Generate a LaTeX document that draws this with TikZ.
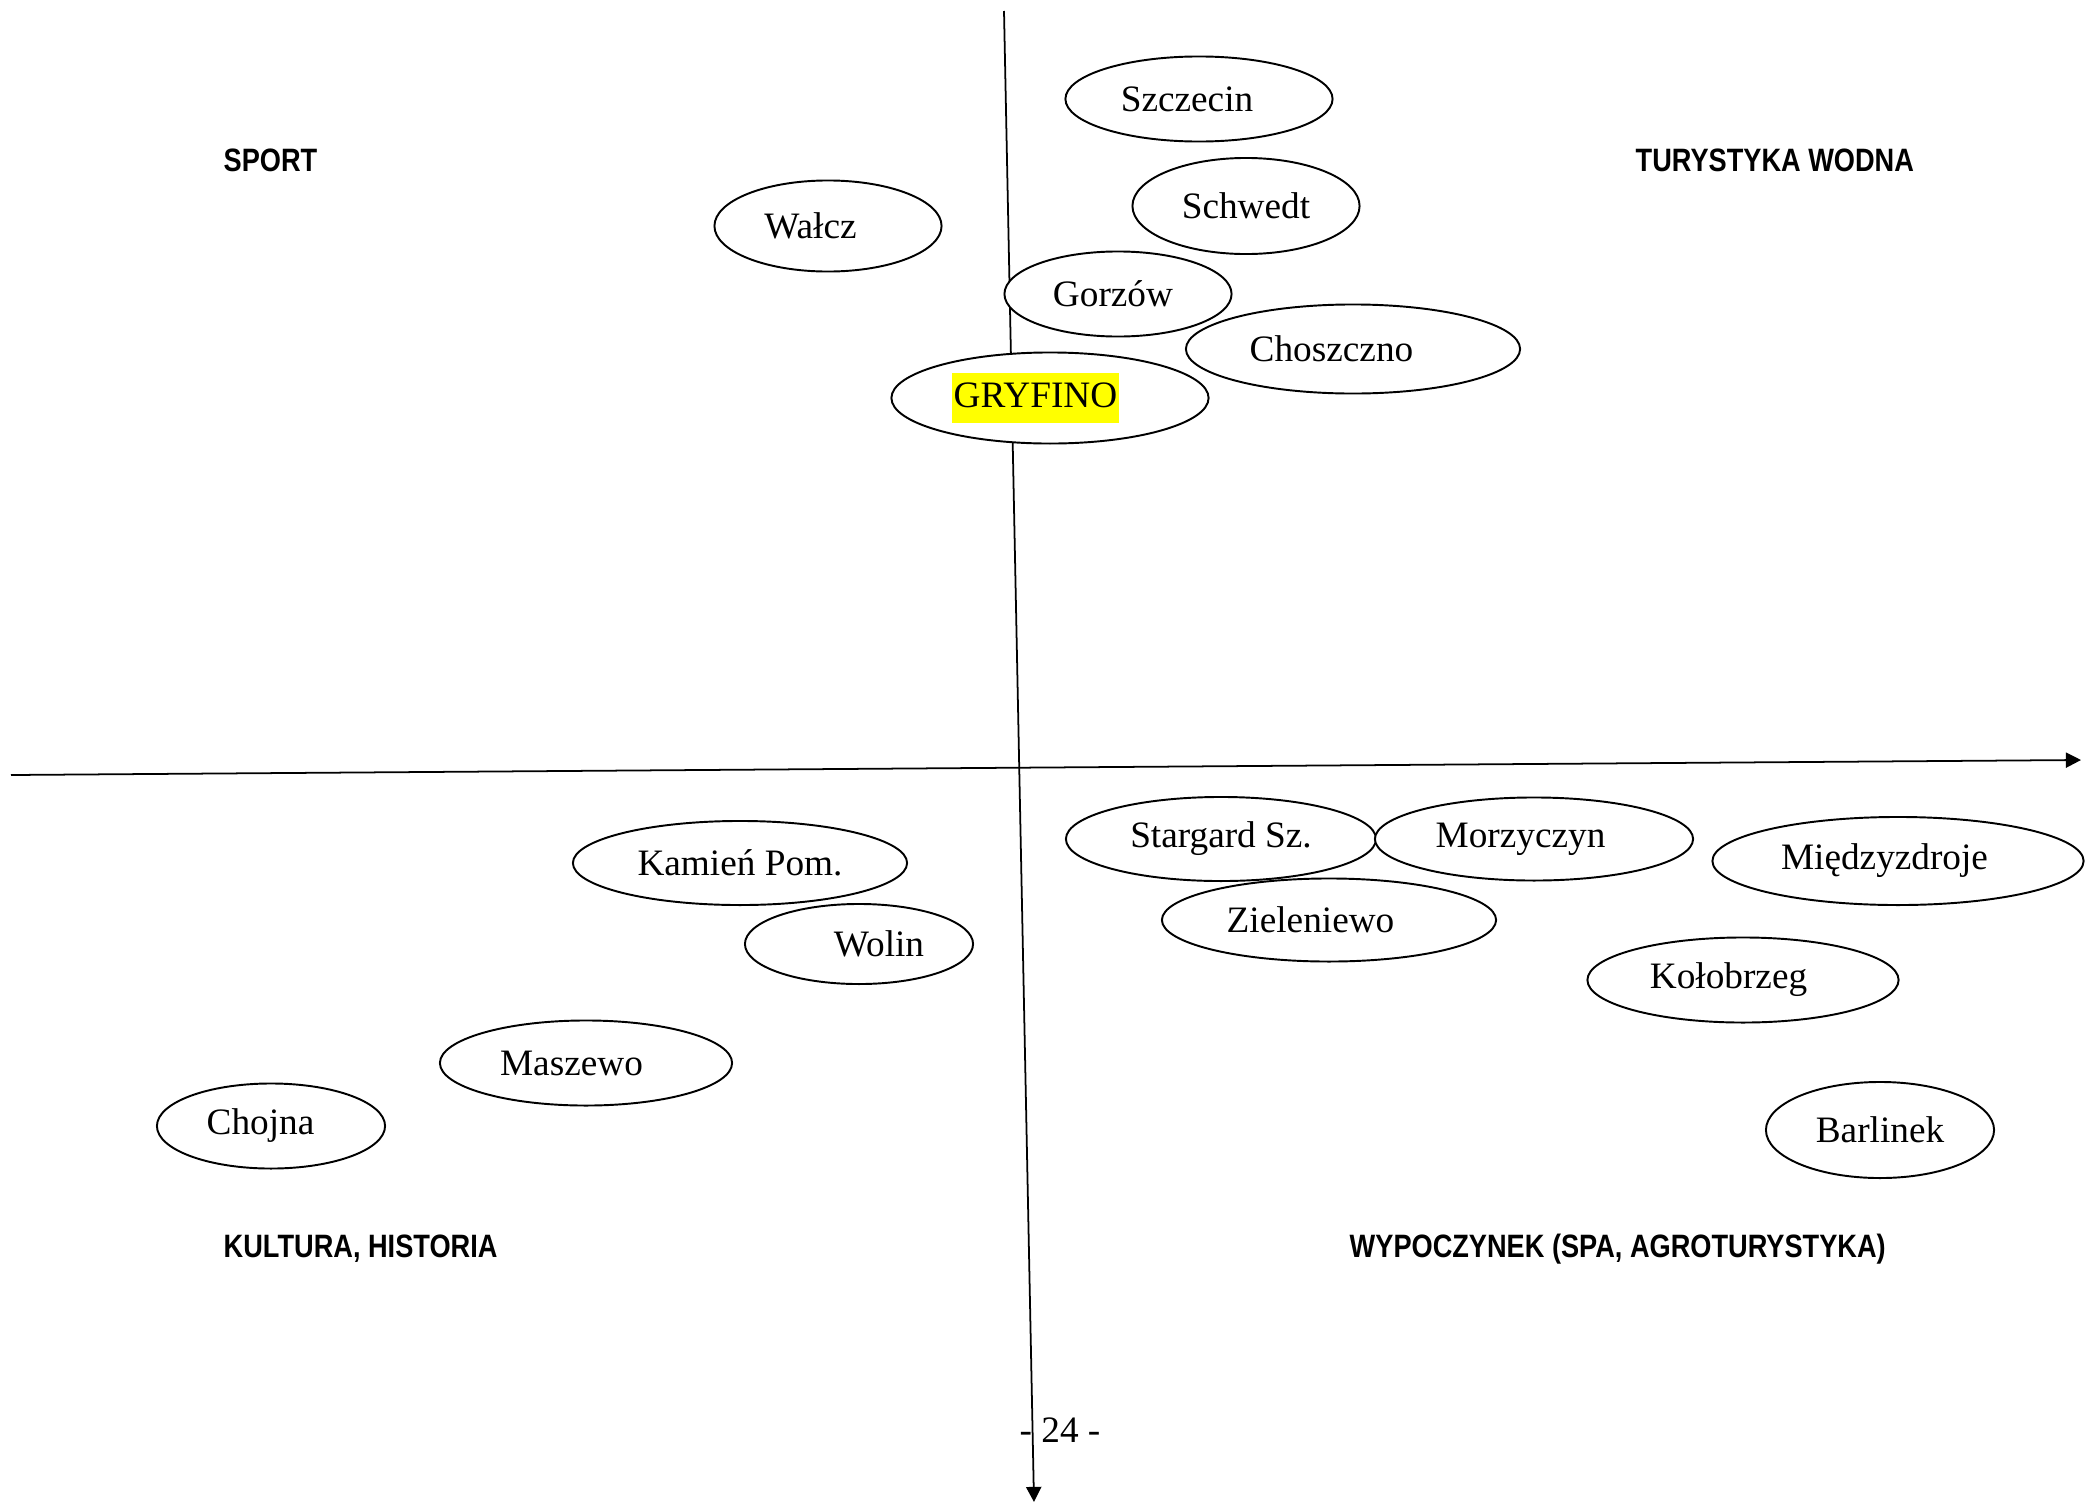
\documentclass[tikz,border=0pt]{standalone}
\usepackage{fontspec}
\setmainfont{Liberation Serif}
\newfontfamily\quadfont[FakeStretch=0.84]{Liberation Sans}
\usetikzlibrary{shapes.geometric,arrows.meta}
\definecolor{marker}{RGB}{255,255,0}

\begin{document}
\begin{tikzpicture}[x=0.01cm,y=-0.01cm,
		place/.style={ellipse,draw,fill=white,line width=0.55pt,inner sep=0pt,font=\fontsize{10.6}{13}\selectfont},
		nudge/.style={execute at begin node={\kern#1}},
		axis/.style={line width=0.5pt,-{Triangle[length=4.3pt,width=4.3pt]}},
		quadrant/.style={anchor=west,inner sep=0pt,font=\quadfont\bfseries\fontsize{9.2}{11}\selectfont}]
		\useasboundingbox (0,0) rectangle (2094,1506);

		\coordinate (top)		at (1004,11);
		\coordinate (bottom)	at (1034,1502);
		\coordinate (left)		at (11,775);
		\coordinate (right)		at (2081,760);

		\draw[axis] (left) -- (right);
		\draw[axis] (top) -- (bottom);

		\node[quadrant]	(sport)		at (223,160)	{SPORT};
		\node[quadrant]	(wodna)		at (1635,160)	{TURYSTYKA WODNA};
		\node[quadrant]	(kultura)	at (223,1249)	{KULTURA, HISTORIA};
		\node[quadrant]	(wypoczynek)	at (1349,1249)	{WYPOCZYNEK (SPA, AGROTURYSTYKA)};

		\node[place,nudge=-0.24cm,minimum width=2.67cm,minimum height=0.85cm]	(szczecin)	at (1199,99)	{Szczecin};
		\node[place,minimum width=2.27cm,minimum height=0.96cm]	(schwedt)	at (1246,206)	{Schwedt};
		\node[place,nudge=-0.35cm,minimum width=2.27cm,minimum height=0.91cm]	(walcz)		at (828,226)	{Wałcz};
		\node[place,nudge=-0.1cm,minimum width=2.27cm,minimum height=0.85cm]	(gorzow)	at (1118,294)	{Gorzów};
		\node[place,nudge=-0.43cm,minimum width=3.34cm,minimum height=0.89cm]	(choszczno)	at (1353,349)	{Choszczno};
		\node[place,nudge=-0.29cm,minimum width=3.17cm,minimum height=0.91cm]	(gryfino)	at (1050,398)
			{\setlength{\fboxsep}{0.6pt}\colorbox{marker}{\strut GRYFINO}};

		\node[place,minimum width=3.10cm,minimum height=0.84cm]	(stargard)	at (1221,839)	{Stargard Sz.};
		\node[place,nudge=-0.27cm,minimum width=3.18cm,minimum height=0.83cm]	(morzyczyn)	at (1534,839)	{Morzyczyn};
		\node[place,nudge=-0.27cm,minimum width=3.71cm,minimum height=0.88cm]	(miedzyzdroje)	at (1898,861)	{Międzyzdroje};
		\node[place,nudge=-0.37cm,minimum width=3.34cm,minimum height=0.83cm]	(zieleniewo)	at (1329,920)	{Zieleniewo};
		\node[place,nudge=-0.29cm,minimum width=3.11cm,minimum height=0.85cm]	(kolobrzeg)	at (1743,980)	{Kołobrzeg};
		\node[place,minimum width=2.28cm,minimum height=0.96cm]	(barlinek)	at (1880,1130)	{Barlinek};

		\node[place,minimum width=3.34cm,minimum height=0.84cm]	(kamien)	at (740,863)	{Kamień Pom.};
		\node[place,nudge=0.4cm,minimum width=2.28cm,minimum height=0.80cm]	(wolin)		at (859,944)	{Wolin};
		\node[place,nudge=-0.29cm,minimum width=2.92cm,minimum height=0.85cm]	(maszewo)	at (586,1063)	{Maszewo};
		\node[place,nudge=-0.21cm,minimum width=2.28cm,minimum height=0.85cm]	(chojna)	at (271,1126)	{Chojna};

		\node[font=\fontsize{10.6}{13}\selectfont]	(page)	at (1060,1430)	{- 24 -};
	\end{tikzpicture}
\end{document}
